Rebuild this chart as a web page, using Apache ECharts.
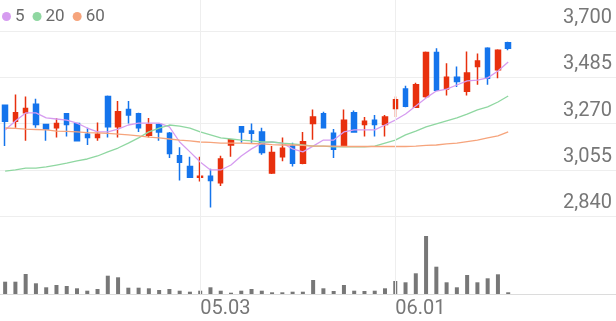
<!DOCTYPE html>
<html>
<head>
<meta charset="utf-8">
<script src="https://cdn.jsdelivr.net/npm/echarts@6/dist/echarts.min.js"></script>
<style>
html,body{margin:0;padding:0;background:#fff;}
#c{width:616px;height:321px;}
</style>
</head>
<body>
<div id="c"></div>
<script>
const dates = ['04.05','04.06','04.07','04.10','04.11','04.12','04.13','04.14','04.17','04.18',
  '04.19','04.20','04.21','04.24','04.25','04.26','04.27','04.28','05.02','05.03',
  '05.04','05.08','05.09','05.10','05.11','05.12','05.15','05.16','05.17','05.18',
  '05.19','05.22','05.23','05.24','05.25','05.26','05.30','05.31','06.01','06.02',
  '06.05','06.07','06.08','06.09','06.12','06.13','06.14','06.15','06.16','06.19'];
const emptySlots = ['e1','e2','e3','e4','e5','e6','e7','e8','e9','e10'];
const xTickLabels = ['05.03','06.01'];
const yTicks = [2840, 3055, 3270, 3485, 3700];

const opens  = [3355,3280,3320,3360,3265,3250,3315,3270,3220,3205,3395,3255,3335,3315,3215,3265,3225,3120,3070,3020,3025,2995,3170,3255,3235,3230,3040,3115,3165,3085,3270,3315,3225,3165,3320,3265,3285,3265,3340,3430,3345,3395,3600,3430,3485,3420,3535,3620,3520,3645];
const closes = [3280,3320,3340,3265,3245,3270,3265,3190,3205,3220,3255,3325,3310,3250,3265,3230,3130,3090,3020,3025,3005,3105,3195,3230,3225,3135,3135,3155,3085,3185,3300,3250,3150,3285,3230,3280,3265,3300,3380,3350,3450,3600,3425,3485,3465,3505,3560,3480,3610,3620];
const lows   = [3165,3250,3190,3250,3190,3205,3210,3190,3170,3190,3205,3205,3270,3230,3205,3190,3110,3005,3020,3000,2880,2980,3115,3180,3180,3125,3035,3095,3070,3080,3195,3250,3110,3165,3230,3210,3210,3210,3300,3345,3345,3390,3425,3400,3440,3400,3450,3450,3480,3610];
const highs  = [3355,3405,3395,3385,3265,3295,3315,3270,3250,3275,3400,3375,3375,3320,3295,3270,3230,3160,3115,3115,3060,3120,3195,3255,3270,3250,3165,3205,3180,3230,3335,3325,3245,3335,3330,3300,3310,3310,3395,3445,3460,3605,3620,3550,3535,3605,3595,3625,3615,3650];

const ma5  = [3240,3282,3319,3319,3296,3291,3286,3272,3249,3231,3231,3244,3263,3272,3272,3272,3254,3184,3138,3091,3054,3054,3077,3119,3152,3179,3184,3179,3152,3138,3165,3193,3193,3231,3240,3240,3240,3263,3286,3314,3351,3389,3421,3430,3449,3468,3472,3482,3514,3556];
const ma20 = [3049,3054,3063,3063,3068,3077,3086,3096,3105,3119,3138,3156,3179,3203,3231,3249,3263,3258,3249,3231,3217,3203,3198,3193,3189,3184,3184,3179,3175,3170,3165,3165,3161,3161,3161,3161,3165,3179,3193,3217,3235,3254,3268,3282,3296,3314,3333,3347,3370,3398];
const ma60 = [3249,3247,3244,3242,3240,3235,3233,3231,3228,3226,3224,3221,3217,3212,3207,3203,3198,3193,3189,3184,3182,3179,3179,3179,3177,3175,3172,3170,3170,3168,3165,3165,3165,3163,3163,3163,3163,3163,3163,3163,3165,3168,3170,3175,3179,3186,3193,3203,3212,3231];

const volumes = [49200,49200,80000,42800,26800,36000,32000,22800,13200,20000,73200,66800,25200,25200,22800,16000,20000,13200,9200,13200,26800,13200,5200,13200,20000,13200,6800,6800,9200,9200,56000,22800,12000,36000,13200,12000,13200,22800,52000,46800,82800,232000,109200,46800,26800,76000,46800,62800,78800,6800];
const volumeMax = 312000;

const cats = dates.concat(emptySlots);
const candleData = dates.map((d, i) => [opens[i], closes[i], lows[i], highs[i]]);

const UP = '#e8300e', DOWN = '#1474ec';
const C5 = '#d69cf0', C20 = '#8fd7a1', C60 = '#f6a47c';
const gridLine = '#eeeeee';
const font = 'Roboto, "Noto Sans", sans-serif';

const chart = echarts.init(document.getElementById('c'), null, {renderer: 'canvas'});
chart.setOption({
  animation: false,
  backgroundColor: '#ffffff',
  legend: {
    data: ['5', '20', '60'],
    left: 2, top: 8, padding: 0,
    icon: 'circle', itemWidth: 9, itemHeight: 9, itemGap: 8,
    textStyle: {color: '#6a6a6a', fontSize: 17, fontFamily: font, padding: [0, 0, 0, -1]},
    selectedMode: false
  },
  grid: [
    {left: 0, right: 0, top: 31, height: 185, outerBoundsMode: 'none'},
    {left: 0, right: 0, top: 216, height: 78, outerBoundsMode: 'none'},
    {left: 0, right: 0, top: 0, height: 294, outerBoundsMode: 'none'}
  ],
  xAxis: [
    {type: 'category', gridIndex: 0, data: cats, boundaryGap: true, show: false},
    {type: 'category', gridIndex: 1, data: cats, boundaryGap: true,
      axisLine: {show: true, lineStyle: {color: '#dcdcdc', width: 1}},
      axisTick: {show: false}, splitLine: {show: false},
      axisLabel: {interval: 0, align: 'left', margin: 5, color: '#777', fontSize: 20, fontFamily: font,
        formatter: v => xTickLabels.includes(v) ? v : ''}},
    {type: 'category', gridIndex: 2, data: cats, boundaryGap: true, show: false}
  ],
  yAxis: [
    {type: 'value', gridIndex: 0, position: 'right', scale: true,
      min: yTicks[0], max: yTicks[yTicks.length - 1], interval: yTicks[1] - yTicks[0],
      axisLine: {show: false}, axisTick: {show: false},
      splitLine: {show: true, lineStyle: {color: gridLine, width: 1}},
      axisLabel: {inside: true, margin: 4, verticalAlign: 'bottom', color: '#777', fontSize: 20,
        fontFamily: font, padding: [0, 0, 3, 0], showMinLabel: true, showMaxLabel: true,
        formatter: v => v.toLocaleString('en-US')}},
    {type: 'value', gridIndex: 1, min: 0, max: volumeMax, show: false, splitLine: {show: false}},
    {type: 'value', gridIndex: 2, min: 0, max: 1, show: false, splitLine: {show: false}}
  ],
  series: [
    {type: 'line', xAxisIndex: 2, yAxisIndex: 2, data: [], silent: true, z: 0,
      markLine: {silent: true, symbol: 'none', label: {show: false},
        lineStyle: {color: gridLine, width: 1, type: 'solid'},
        data: xTickLabels.map(t => ({xAxis: t}))}},
    {type: 'candlestick', name: 'price', xAxisIndex: 0, yAxisIndex: 0, data: candleData,
      barWidth: 5, z: 3,
      itemStyle: {color: UP, color0: DOWN, borderColor: UP, borderColor0: DOWN, borderWidth: 1.5}},
    {type: 'line', name: '5', xAxisIndex: 0, yAxisIndex: 0, data: ma5, showSymbol: false, z: 4,
      lineStyle: {color: C5, width: 1.3}, itemStyle: {color: C5}},
    {type: 'line', name: '20', xAxisIndex: 0, yAxisIndex: 0, data: ma20, showSymbol: false, z: 4,
      lineStyle: {color: C20, width: 1.3}, itemStyle: {color: C20}},
    {type: 'line', name: '60', xAxisIndex: 0, yAxisIndex: 0, data: ma60, showSymbol: false, z: 4,
      lineStyle: {color: C60, width: 1.3}, itemStyle: {color: C60}},
    {type: 'bar', name: 'volume', xAxisIndex: 1, yAxisIndex: 1, data: volumes, barWidth: 4,
      itemStyle: {color: '#777777'}}
  ]
});
</script>
</body>
</html>
